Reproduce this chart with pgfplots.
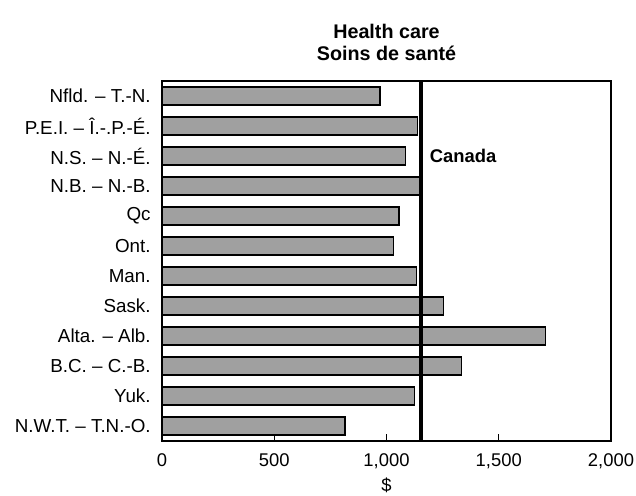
\documentclass[border=0pt]{standalone}
\usepackage{fontspec}
\setmainfont{Liberation Sans}
\usepackage{pgfplots}
\pgfplotsset{compat=1.18}
\begin{document}
\begin{tikzpicture}
\useasboundingbox (0pt,0pt) rectangle (477pt,372pt);
\begin{axis}[
  at={(121.5pt,41.25pt)}, anchor=south west,
  scale only axis, width=336.75pt, height=270pt,
  xbar, bar width=13.5pt,
  xmin=0, xmax=2000,
  ymin=-0.5, ymax=11.5, y dir=reverse,
  xtick={0,500,1000,1500,2000},
  xticklabels={0,500,{1,000},{1,500},{2,000}},
  ytick={0,...,11},
  yticklabels={{Nfld. -- T.-N.},{P.E.I. -- Î.-.P.-É.},{N.S. -- N.-É.},{N.B. -- N.-B.},Qc,Ont.,Man.,Sask.,{Alta. -- Alb.},{B.C. -- C.-B.},Yuk.,{N.W.T. -- T.N.-O.}},
  minor ytick={0.5,1.5,...,10.5},
  tick style={black, line width=0.75pt},
  major tick length=5pt,
  ytick style={draw=none},
  minor tick length=4pt,
  minor y tick style={black,line width=0.75pt},
  xtick pos=bottom, ytick pos=left,
  tick align=inside,
  axis line style={black, line width=0.9pt},
  tick label style={font=\fontsize{13.8}{15}\selectfont},
  yticklabel style={xshift=-5pt, font=\fontsize{14.1}{15}\selectfont},
  xticklabel style={yshift=-6pt},
  xlabel={\$}, xlabel style={font=\fontsize{13.8}{15}\selectfont, yshift=0pt},
  title={\textbf{Health care}\\\textbf{Soins de santé}},
  title style={align=center, font=\fontsize{14.8}{16.5}\selectfont, yshift=6pt},
  clip=false,
]
\addplot[fill={rgb,255:red,160;green,160;blue,160}, draw=black, line width=1.1pt] coordinates {
(971,0) (1138,1) (1084,2) (1150,3) (1055,4) (1032,5) (1133,6) (1255,7) (1709,8) (1335,9) (1124,10) (816,11)
};
\addplot[black, line width=3pt, sharp plot, forget plot] coordinates {(1155,-0.5) (1155,11.5)};
\node[anchor=west, inner sep=0pt, font=\fontsize{13.8}{15}\selectfont\bfseries] at (axis cs:1192,2) {Canada};
\end{axis}
\end{tikzpicture}
\end{document}
